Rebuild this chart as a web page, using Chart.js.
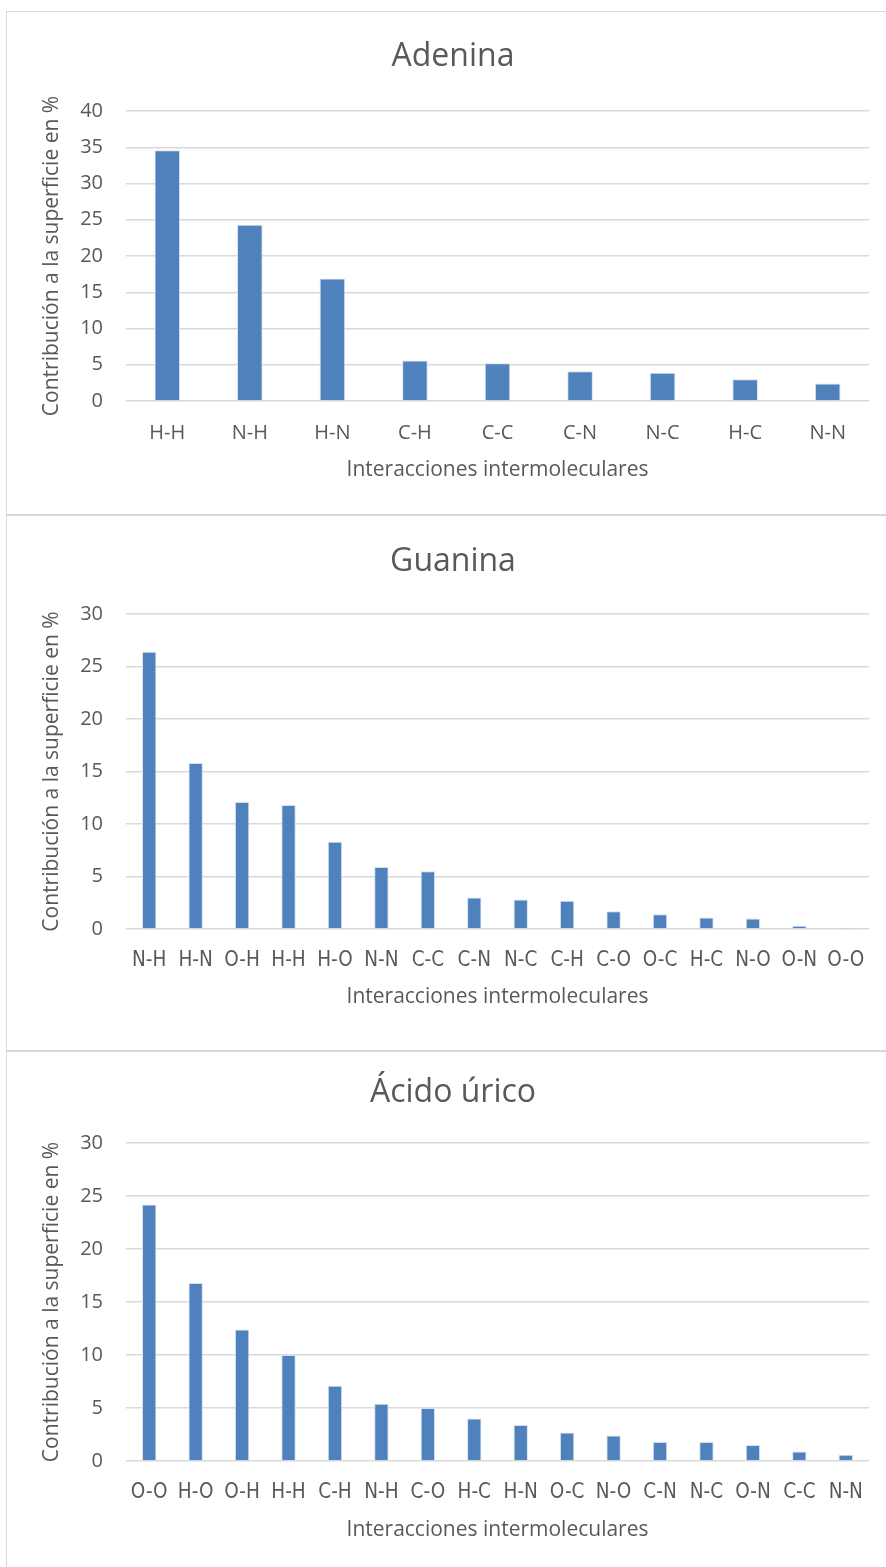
<!DOCTYPE html>
<html>
<head>
<meta charset="utf-8">
<script src="https://cdn.jsdelivr.net/npm/chart.js@4.4.0/dist/chart.umd.min.js"></script>
<style>
body{margin:0;background:#fff;width:886px;height:1567px;overflow:hidden;position:relative}
.box{position:absolute;left:6px;width:890px;border:1px solid #d9d9d9;box-sizing:border-box;background:#fff}
canvas{position:absolute;left:0;top:0}
</style>
</head>
<body>
<div class="box" id="b1"><canvas id="c1"></canvas></div>
<div class="box" id="b2"><canvas id="c2"></canvas></div>
<div class="box" id="b3"><canvas id="c3"></canvas></div>
<script>
// data
var adeninaLabels = ['H-H','N-H','H-N','C-H','C-C','C-N','N-C','H-C','N-N'];
var adeninaValues = [34.6, 24.3, 16.9, 5.6, 5.2, 4.1, 3.9, 3.0, 2.4];

var guaninaLabels = ['N-H','H-N','O-H','H-H','H-O','N-N','C-C','C-N','N-C','C-H','C-O','O-C','H-C','N-O','O-N','O-O'];
var guaninaValues = [26.4, 15.8, 12.1, 11.8, 8.3, 5.9, 5.5, 3.0, 2.8, 2.7, 1.7, 1.4, 1.1, 1.0, 0.3, 0.1];

var uricoLabels = ['O-O','H-O','O-H','H-H','C-H','N-H','C-O','H-C','H-N','O-C','N-O','C-N','N-C','O-N','C-C','N-N'];
var uricoValues = [24.2, 16.8, 12.4, 10.0, 7.1, 5.4, 5.0, 4.0, 3.4, 2.7, 2.4, 1.8, 1.8, 1.5, 0.9, 0.6];

var yTitle = 'Contribución a la superficie en %';
var xTitle = 'Interacciones intermoleculares';

var FONT = "'Open Sans', sans-serif";
var NARROW = "'Liberation Sans Narrow', 'DejaVu Sans Condensed', 'Open Sans', sans-serif";
var GREY = '#595959';
var BLUE = '#4f81bd';

function drawChart(canvasId, boxId, geo, title, labels, values, yMax) {
  var box = document.getElementById(boxId);
  box.style.top = geo.boxTop + 'px';
  box.style.height = (geo.boxBottom - geo.boxTop) + 'px';
  var cv = document.getElementById(canvasId);
  var top0 = geo.boxTop + 1;
  var w = 878, h = geo.boxBottom - geo.boxTop - 2;
  cv.width = w; cv.height = h;

  var padL = 30;
  var tSize = 32, tLh = tSize * 1.2;
  var aSize = 21, aLh = aSize * 1.2;

  new Chart(cv.getContext('2d'), {
    type: 'bar',
    data: {
      labels: labels,
      datasets: [{
        data: values,
        backgroundColor: BLUE,
        borderColor: '#d6e0ee',
        borderWidth: 1,
        categoryPercentage: 0.31,
        barPercentage: 1
      }]
    },
    options: {
      responsive: false,
      animation: false,
      layout: { padding: { left: padL, right: 16, top: 0, bottom: 0 } },
      plugins: {
        legend: { display: false },
        tooltip: { enabled: false },
        title: {
          display: true,
          text: title,
          color: GREY,
          font: { family: FONT, size: tSize, weight: 'normal', lineHeight: 1.2 },
          padding: { top: geo.titleY - top0 - tLh / 2, bottom: geo.plotTop - geo.titleY - tLh / 2 }
        }
      },
      scales: {
        x: {
          grid: { display: false, drawTicks: false },
          border: { display: false },
          ticks: {
            color: GREY, font: { family: geo.tickFont, size: geo.tickSize },
            autoSkip: false, maxRotation: 0, minRotation: 0, padding: geo.labelPad
          },
          title: {
            display: true, text: xTitle, color: GREY,
            font: { family: FONT, size: aSize, lineHeight: 1.2 },
            padding: { top: 0, bottom: h - (geo.xTitleY - top0) - aLh / 2 }
          },
          afterFit: function (scale) { scale.height = h - (geo.plotBottom - top0); }
        },
        y: {
          min: 0, max: yMax,
          grid: { color: '#d9d9d9', lineWidth: 1.5, drawTicks: false },
          border: { display: false },
          ticks: { stepSize: 5, color: GREY, font: { family: FONT, size: 20 }, padding: 23 },
          title: {
            display: true, text: yTitle, color: GREY,
            font: { family: FONT, size: aSize, lineHeight: 1.2 },
            padding: { top: geo.yTitleX - 7 - padL - aLh / 2, bottom: 0 }
          },
          afterFit: function (scale) { scale.width = 126 - 7 - padL; }
        }
      }
    }
  });
}

drawChart('c1', 'b1', { boxTop: 11, boxBottom: 515, titleY: 57, plotTop: 111, plotBottom: 401, labelPad: 20, xTitleY: 470, yTitleX: 52, tickFont: FONT, tickSize: 20 },
  'Adenina', adeninaLabels, adeninaValues, 40);
drawChart('c2', 'b2', { boxTop: 515, boxBottom: 1051, titleY: 562, plotTop: 614, plotBottom: 929, labelPad: 19, xTitleY: 997, yTitleX: 52, tickFont: NARROW, tickSize: 20.5 },
  'Guanina', guaninaLabels, guaninaValues, 30);
drawChart('c3', 'b3', { boxTop: 1051, boxBottom: 1590, titleY: 1093, plotTop: 1143, plotBottom: 1461, labelPad: 19, xTitleY: 1530, yTitleX: 52, tickFont: NARROW, tickSize: 20.5 },
  'Ácido úrico', uricoLabels, uricoValues, 30);
</script>
</body>
</html>
